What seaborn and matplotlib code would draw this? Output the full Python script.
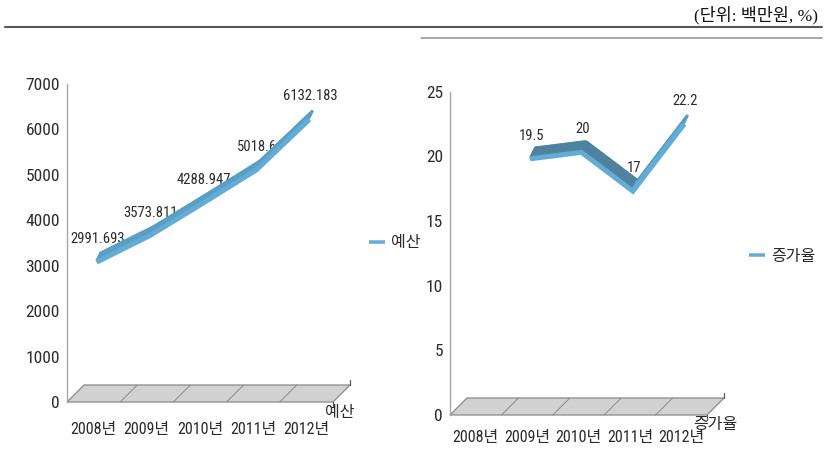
import numpy as np
import pandas as pd
import matplotlib
matplotlib.use("Agg")
import matplotlib.pyplot as plt
import seaborn as sns
from matplotlib import patheffects as pe
from matplotlib import font_manager as fm
from matplotlib.lines import Line2D
from matplotlib.patches import Polygon

# ---- data -------------------------------------------------------------
years = ["2008년", "2009년", "2010년", "2011년", "2012년"]
budget = [2991.693, 3573.811, 4288.947, 5018.6, 6132.183]
budget_labels = ["2991.693", "3573.811", "4288.947", "5018.6", "6132.183"]
growth = [np.nan, 19.5, 20, 17, 22.2]
growth_labels = ["", "19.5", "20", "17", "22.2"]
budget_ticks = [0, 1000, 2000, 3000, 4000, 5000, 6000, 7000]
growth_ticks = [0, 5, 10, 15, 20, 25]
unit_text = "(단위: 백만원, %)"

# ---- fonts: prefer a narrow sans for the chart text ----------------------
NARROW = ("condensed", "semi-condensed", "extra-condensed", "ultra-condensed")
narrow_faces = [f for f in fm.fontManager.ttflist
                if f.stretch in NARROW and f.style == "normal"
                and str(f.weight) in ("400", "normal", "regular", "book")
                and not any(k in f.name for k in ("Mono", "Serif", "CJK"))]
narrow_names = [f.name for f in narrow_faces]
preferred = ["Liberation Sans Narrow", "Roboto Condensed", "Roboto", "Open Sans Condensed",
             "Open Sans", "Noto Sans", "DejaVu Sans Condensed", "DejaVu Sans", "Lato", "Inter"]
base_family = next((p for p in preferred if p in narrow_names),
                   narrow_names[0] if narrow_names else "Liberation Sans")

sns.set_theme(style="white")
plt.rcParams["font.family"] = [base_family, "Noto Sans CJK KR", "DejaVu Sans"]
plt.rcParams["font.stretch"] = "condensed"

W, H, DPI = 827, 455, 100
LIGHT = "#63acd5"
TOP_UP = "#5a9ec6"     # top face of rising segments
TOP_FLAT = "#4e829f"   # top face of flat / falling segments
FLOOR = "#d2d2d2"
EDGE = "#8a8a8a"
TEXT = "#2b2b2b"


def pt(px):
    """pixels -> points at the figure dpi"""
    return px * 72.0 / DPI


fig = plt.figure(figsize=(W / DPI, H / DPI), dpi=DPI)


def ribbon(ax, df, w_px, h_px, ymax):
    """3-D style line: a top face per segment, then the front face."""
    px_per_x = w_px / len(years)
    px_per_y = h_px / ymax
    pts = df.reset_index(drop=True)
    for k in range(len(pts) - 1):
        seg = pts.iloc[k:k + 2]
        slope = (seg["value"].iloc[1] - seg["value"].iloc[0]) * px_per_y / px_per_x
        rising = slope > 0.3
        top = TOP_UP if rising else TOP_FLAT
        depth = 13.5 if rising else 15.5
        faces = [pe.Stroke(offset=(pt(0.5 * d), pt(d)), linewidth=pt(2.6),
                           foreground=top, capstyle="butt", joinstyle="miter")
                 for d in np.arange(5, depth, 0.5)]
        sns.lineplot(data=seg, x="pos", y="value", ax=ax, color=top,
                     linewidth=pt(2.6), path_effects=faces, zorder=4)
    front = [pe.Stroke(offset=(pt(3), pt(4)), linewidth=pt(5), foreground=LIGHT,
                       capstyle="butt", joinstyle="miter")]
    sns.lineplot(data=pts, x="pos", y="value", ax=ax, color=LIGHT,
                 linewidth=pt(5), path_effects=front, zorder=5)


def panel(rect_px, values, labels, ticks, name, legend_px, name_px, xlab_pad_px):
    x0, x1, y0, y1 = rect_px  # left, right, zero row, top row (pixels)
    ax = fig.add_axes([x0 / W, 1 - y0 / H, (x1 - x0) / W, (y0 - y1) / H])
    w_px, h_px = x1 - x0, y0 - y1

    df = pd.DataFrame({"pos": np.arange(len(years)), "value": values}).dropna()
    ribbon(ax, df, w_px, h_px, ticks[-1])

    for i, (v, lab) in enumerate(zip(values, labels)):
        if lab:
            ax.annotate(lab, (i, v), xytext=(pt(4), pt(27)), textcoords="offset points",
                        ha="center", va="center", fontsize=10.5, color=TEXT, zorder=3)

    ax.set_xlim(-0.5, len(years) - 0.5)
    ax.set_ylim(ticks[0], ticks[-1])
    ax.set_yticks(ticks)
    ax.set_xticks(range(len(years)))
    ax.set_xticklabels(years)
    ax.set_xlabel("")
    ax.set_ylabel("")
    ax.tick_params(axis="y", length=0, pad=pt(7), labelsize=12.5, labelcolor=TEXT)
    ax.tick_params(axis="x", length=0, pad=pt(xlab_pad_px), labelsize=11.5, labelcolor=TEXT)
    for s in ("top", "right", "bottom"):
        ax.spines[s].set_visible(False)
    ax.spines["left"].set_color("#a8a8a8")
    ax.spines["left"].set_linewidth(1.0)

    # 3-D floor
    fx, fy = 17 / w_px, 17 / h_px
    ax.add_patch(Polygon([(0, 0), (1, 0), (1 + fx, fy), (fx, fy)], closed=True,
                         transform=ax.transAxes, facecolor=FLOOR, edgecolor=EDGE,
                         linewidth=0.9, clip_on=False, zorder=1))
    n = len(years)
    for k in range(1, n):
        ax.add_line(Line2D([k / n, k / n + fx], [0, fy], transform=ax.transAxes,
                           color=EDGE, linewidth=0.7, clip_on=False, zorder=1))
    ax.add_line(Line2D([1 + fx, 1 + fx], [fy, fy + 5 / h_px], transform=ax.transAxes,
                       color="#555555", linewidth=0.9, clip_on=False, zorder=1))
    ax.add_line(Line2D([1, 1], [0, -5 / h_px], transform=ax.transAxes,
                       color="#555555", linewidth=0.9, clip_on=False, zorder=1))

    # series name on the depth axis
    fig.text(name_px[0] / W, 1 - name_px[1] / H, name, ha="center", va="center",
             fontsize=11.5, color=TEXT)

    # legend
    handle = Line2D([], [], color=LIGHT, linewidth=pt(3.5), solid_capstyle="butt")
    fig.legend([handle], [name], loc="center left",
               bbox_to_anchor=(legend_px[0] / W, 1 - legend_px[1] / H),
               frameon=False, fontsize=11.5, handlelength=1.0, handletextpad=0.4,
               borderpad=0, borderaxespad=0, labelcolor=TEXT)
    return ax


panel((67, 333, 402, 84), budget, budget_labels, budget_ticks, "예산",
      (369, 243), (340, 412), 20)
panel((450, 707, 415, 91.7), growth, growth_labels, growth_ticks, "증가율",
      (749, 256), (715, 424), 15)

# header unit text and rules
fig.text(818 / W, 1 - 15 / H, unit_text, ha="right", va="center", fontsize=12.5,
         color="#111111", stretch="normal",
         family=["Liberation Serif", "Noto Sans CJK KR", "DejaVu Sans"])
fig.add_artist(Line2D([5 / W, 822 / W], [1 - 27 / H] * 2, color="#555555", linewidth=1.5))
fig.add_artist(Line2D([421 / W, 822 / W], [1 - 37.5 / H] * 2, color="#9a9a9a", linewidth=1.2))

fig.savefig("out.png", dpi=DPI)
